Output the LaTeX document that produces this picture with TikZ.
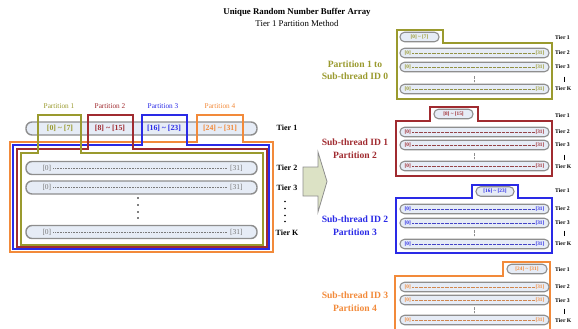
\documentclass[tikz,border=0pt]{standalone}
\usepackage{fontspec}
\setmainfont{Liberation Serif}
\definecolor{olv}{HTML}{9A9A2E}
\definecolor{drd}{HTML}{A02B30}
\definecolor{blu}{HTML}{2A2AE6}
\definecolor{org}{HTML}{F28A3A}
\definecolor{barfill}{HTML}{E6ECF6}
\definecolor{barline}{HTML}{8E8E8E}
\definecolor{arrfill}{HTML}{DCE2C5}
\definecolor{txtgray}{HTML}{7A7A7A}
\newcommand{\myRow}[3]{% name, y, colour
  \node[rbar] (#1) at (474.5,#2) {};
  \node[rtext=#3, anchor=west] (#1a) at ([xshift=5pt]#1.west) {[0]};
  \node[rtext=#3, anchor=east] (#1b) at ([xshift=-5pt]#1.east) {[31]};
  \draw[rdash=#3] ([xshift=1pt]#1a.east) -- ([xshift=-1pt]#1b.west);
}
\newcommand{\myTiers}[6]{% y1,y2,y3,ybar,yK, prefix
  \node[rtier] (#6t1) at (555,#1) {Tier 1};
  \node[rtier] (#6t2) at (555,#2) {Tier 2};
  \node[rtier] (#6t3) at (555,#3) {Tier 3};
  \coordinate (#6va) at (564,#4-2.5);
  \coordinate (#6vb) at (564,#4+2.5);
  \draw[line width=0.5pt] (#6va) -- (#6vb);
  \node[rtier] (#6tk) at (555,#5) {Tier K};
}
\begin{document}
\begin{tikzpicture}[x=1pt,y=-1pt,
  lbar/.style={draw=barline, fill=barfill, line width=1.4pt, rounded corners=6pt,
    minimum height=13pt, minimum width=231pt, inner sep=0pt},
  rbar/.style={draw=barline, fill=barfill, line width=1.1pt, rounded corners=4.5pt,
    minimum height=9.5pt, minimum width=149pt, inner sep=0pt},
  sbar/.style={draw=barline, fill=barfill, line width=1.1pt, rounded corners=4.5pt,
    minimum height=9.5pt, inner sep=0pt, font=\bfseries\fontsize{5.3}{6}\selectfont},
  ltext/.style={inner sep=0pt, text=txtgray, font=\fontsize{7.5}{8}\selectfont},
  ptext/.style={inner sep=0pt, text=#1, font=\bfseries\fontsize{7.8}{9}\selectfont},
  plabel/.style={inner sep=0pt, text=#1, font=\fontsize{7.3}{8}\selectfont},
  rtext/.style={inner sep=0pt, text=#1, font=\bfseries\fontsize{5.3}{6}\selectfont},
  rdash/.style={#1!70!gray, line width=0.4pt, dash pattern=on 0.8pt off 0.5pt},
  ldash/.style={txtgray, line width=0.4pt, dash pattern=on 1pt off 0.6pt},
  tier/.style={inner sep=0pt, font=\bfseries\fontsize{8}{9}\selectfont},
  rtier/.style={inner sep=0pt, anchor=west, font=\bfseries\fontsize{5.7}{6}\selectfont},
  outl/.style={draw=#1, line width=1.3pt},
  routl/.style={draw=#1, line width=1.6pt},
  side/.style={inner sep=0pt, align=center, text=#1,
    font=\bfseries\fontsize{9.6}{12.5}\selectfont},
  dot/.style={fill=black, circle, inner sep=0pt, minimum size=1.8pt}
]
\useasboundingbox (0,0) rectangle (578,329);
\clip (0,0) rectangle (578,329);

% title
\node[font=\bfseries\fontsize{8.8}{10}\selectfont] (title) at (297,12) {Unique Random Number Buffer Array};
\node[font=\fontsize{8.8}{10}\selectfont] (subtitle) at (297,23) {Tier 1 Partition Method};

% ---------- left array ----------
\node[plabel=olv] (pl1) at (59,106) {Partition 1};
\node[plabel=drd] (pl2) at (110,106) {Partition 2};
\node[plabel=blu] (pl3) at (163,106) {Partition 3};
\node[plabel=org] (pl4) at (220,106) {Partition 4};

\node[lbar] (L1) at (141.5,128.5) {};
\node[ptext=olv] (L1a) at (60,128.5) {[0] \textasciitilde{} [7]};
\node[ptext=drd] (L1b) at (110,128.5) {[8] \textasciitilde{} [15]};
\node[ptext=blu] (L1c) at (164,128.5) {[16] \textasciitilde{} [23]};
\node[ptext=org] (L1d) at (220,128.5) {[24] \textasciitilde{} [31]};

\foreach \n/\y in {L2/168, L3/187.5, LK/232}{
  \node[lbar] (\n) at (141.5,\y) {};
  \node[ltext, anchor=west] (\n a) at ([xshift=17pt]\n.west) {[0]};
  \node[ltext, anchor=east] (\n b) at ([xshift=-15pt]\n.east) {[31]};
  \draw[ldash] ([xshift=2pt]\n a.east) -- ([xshift=-2pt]\n b.west);
}
\foreach \i/\y in {1/198,2/205,3/212,4/218}{
  \node[dot] (md\i) at (138,\y) {};
  \node[dot] (td\i) at (285,\y+3.5) {};
}

% partition outlines
\draw[outl=org] (197,115) -- (243,115) -- (243,142) -- (273,142) -- (273,252) -- (10,252) -- (10,142) -- (197,142) -- cycle;
\draw[outl=blu] (142,115) -- (187,115) -- (187,145) -- (269,145) -- (269,249) -- (13,249) -- (13,145) -- (142,145) -- cycle;
\draw[outl=drd] (88,115) -- (133,115) -- (133,149) -- (267,149) -- (267,247) -- (17,247) -- (17,149) -- (88,149) -- cycle;
\draw[outl=olv] (38,115) -- (81,115) -- (81,153) -- (263,153) -- (263,245) -- (21,245) -- (21,153) -- (38,153) -- cycle;

\node[tier] (lt1) at (287,128) {Tier 1};
\node[tier] (lt2) at (287,168) {Tier 2};
\node[tier] (lt3) at (287,188) {Tier 3};
\node[tier] (ltk) at (287,233) {Tier K};

% big arrow
\draw[draw=barline, fill=arrfill, line width=0.8pt]
  (303,167) -- (318,167) -- (318,152) -- (327,181.5) -- (318,212) -- (318,196) -- (303,196) -- cycle;

% ---------- right panels ----------
% panel 1
\draw[routl=olv] (397,30) -- (443,30) -- (443,43) -- (552,43) -- (552,99) -- (397,99) -- cycle;
\node[sbar, minimum width=39pt, text=olv] (p1t) at (419.5,37) {[0] \textasciitilde{} [7]};
\myRow{p1r2}{53}{olv}
\myRow{p1r3}{67}{olv}
\myRow{p1rk}{89}{olv}
\coordinate (p1va) at (474,76); \coordinate (p1vb) at (474,82);
\draw[barline, line width=0.5pt, dash pattern=on 0.8pt off 0.4pt] (p1va) -- (p1vb);
\myTiers{38}{53}{67}{79}{89}{q1}
\node[side=olv] (s1) at (355,70) {Partition 1 to\\Sub-thread ID 0};

% panel 2
\draw[routl=drd] (430,107) -- (478,107) -- (478,121) -- (552,121) -- (552,176) -- (396,176) -- (396,121) -- (430,121) -- cycle;
\node[sbar, minimum width=39pt, text=drd] (p2t) at (453.5,114) {[8] \textasciitilde{} [15]};
\myRow{p2r2}{132}{drd}
\myRow{p2r3}{145}{drd}
\myRow{p2rk}{166}{drd}
\coordinate (p2va) at (474,153); \coordinate (p2vb) at (474,159);
\draw[barline, line width=0.5pt, dash pattern=on 0.8pt off 0.4pt] (p2va) -- (p2vb);
\myTiers{116}{132}{145}{157}{167}{q2}
\node[side=drd] (s2) at (355,148.5) {Sub-thread ID 1\\Partition 2};

% panel 3
\draw[routl=blu] (472,185) -- (518,185) -- (518,198) -- (552,198) -- (552,253) -- (396,253) -- (396,198) -- (472,198) -- cycle;
\node[sbar, minimum width=38pt, text=blu] (p3t) at (495,191.5) {[16] \textasciitilde{} [23]};
\myRow{p3r2}{209}{blu}
\myRow{p3r3}{223}{blu}
\myRow{p3rk}{244}{blu}
\coordinate (p3va) at (474,230); \coordinate (p3vb) at (474,236);
\draw[barline, line width=0.5pt, dash pattern=on 0.8pt off 0.4pt] (p3va) -- (p3vb);
\myTiers{191}{209}{223}{233}{244}{q3}
\node[side=blu] (s3) at (355,225.5) {Sub-thread ID 2\\Partition 3};

% panel 4
\draw[routl=org] (503,262) -- (550,262) -- (550,345) -- (395,345) -- (395,276) -- (503,276) -- cycle;
\node[sbar, minimum width=40pt, text=org] (p4t) at (527,269) {[24] \textasciitilde{} [31]};
\myRow{p4r2}{287}{org}
\myRow{p4r3}{300}{org}
\myRow{p4rk}{320}{org}
\coordinate (p4va) at (474,307); \coordinate (p4vb) at (474,313);
\draw[barline, line width=0.5pt, dash pattern=on 0.8pt off 0.4pt] (p4va) -- (p4vb);
\myTiers{270}{287}{301}{311}{321}{q4}
\node[side=org] (s4) at (355,301.5) {Sub-thread ID 3\\Partition 4};
\end{tikzpicture}
\end{document}
